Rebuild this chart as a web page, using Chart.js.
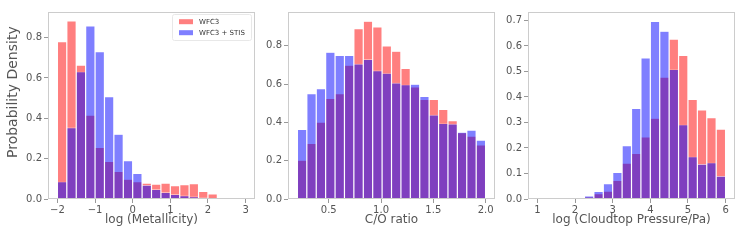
<!DOCTYPE html>
<html>
<head>
<meta charset="utf-8">
<script src="https://cdn.jsdelivr.net/npm/chart.js@4.4.1/dist/chart.umd.min.js"></script>
<style>
  html, body { margin: 0; padding: 0; background: #fff; }
  #wrap { position: relative; width: 747px; height: 240px; overflow: hidden; }
  .panel { position: absolute; top: 0; height: 240px; }
</style>
</head>
<body>
<div id="wrap">
  <div class="panel" style="left:0px;width:262px"><canvas id="metalChart" width="262" height="240"></canvas></div>
  <div class="panel" style="left:258px;width:244px"><canvas id="coChart" width="244" height="240"></canvas></div>
  <div class="panel" style="left:498px;width:244px"><canvas id="cloudChart" width="244" height="240"></canvas></div>
</div>
<script>
// histogram bin edges
const metalEdges = [-2, -1.75, -1.5, -1.25, -1, -0.75, -0.5, -0.25, 0, 0.25, 0.5, 0.75, 1, 1.25, 1.5, 1.75, 2, 2.25, 2.5, 2.75, 3];
const coEdges = [0.2, 0.29, 0.38, 0.47, 0.56, 0.65, 0.74, 0.83, 0.92, 1.01, 1.1, 1.19, 1.28, 1.37, 1.46, 1.55, 1.64, 1.73, 1.82, 1.91, 2.0];
const cloudEdges = [1, 1.25, 1.5, 1.75, 2, 2.25, 2.5, 2.75, 3, 3.25, 3.5, 3.75, 4, 4.25, 4.5, 4.75, 5, 5.25, 5.5, 5.75, 6];

// probability densities per bin
const wfc3Metal = [0.780, 0.883, 0.664, 0.416, 0.256, 0.187, 0.137, 0.098, 0.086, 0.079, 0.074, 0.079, 0.066, 0.071, 0.076, 0.038, 0.025, 0.006, 0.002, 0.001];
const stisMetal = [0.086, 0.354, 0.631, 0.858, 0.731, 0.507, 0.321, 0.190, 0.127, 0.069, 0.048, 0.033, 0.023, 0.017, 0.012, 0.007, 0.003, 0.001, 0, 0];
const wfc3CO = [0.203, 0.290, 0.402, 0.525, 0.551, 0.699, 0.890, 0.929, 0.899, 0.800, 0.772, 0.682, 0.586, 0.520, 0.520, 0.468, 0.409, 0.347, 0.329, 0.283];
const stisCO = [0.363, 0.551, 0.576, 0.767, 0.750, 0.750, 0.706, 0.730, 0.671, 0.657, 0.607, 0.597, 0.600, 0.536, 0.440, 0.395, 0.393, 0.349, 0.360, 0.308];
const wfc3Cloud = [0, 0, 0, 0, 0.002, 0.008, 0.021, 0.031, 0.073, 0.141, 0.179, 0.243, 0.317, 0.478, 0.627, 0.563, 0.390, 0.349, 0.319, 0.274];
const stisCloud = [0, 0, 0, 0, 0.004, 0.012, 0.030, 0.060, 0.104, 0.209, 0.355, 0.553, 0.696, 0.658, 0.508, 0.291, 0.166, 0.137, 0.142, 0.090];

// tick labels
const metalTicks = [-2, -1, 0, 1, 2, 3];
const coTicks = [0.5, 1.0, 1.5, 2.0];
const cloudTicks = [1, 2, 3, 4, 5, 6];
const densTicks = [0, 0.2, 0.4, 0.6, 0.8];
const cloudDensTicks = [0, 0.1, 0.2, 0.3, 0.4, 0.5, 0.6, 0.7];

const seriesLabels = ['WFC3', 'WFC3 + STIS'];

const FONT = "'DejaVu Sans', sans-serif";
const TXT = '#555555';

// draws the light grey box around the axes (matplotlib spines)
const framePlugin = {
    id: 'frame',
    afterDatasetsDraw(chart) {
        const a = chart.chartArea, ctx = chart.ctx;
        ctx.save();
        ctx.strokeStyle = '#cccccc';
        ctx.lineWidth = 1;
        ctx.strokeRect(a.left + 0.5, a.top + 0.5, a.right - a.left - 1, a.bottom - a.top - 1);
        ctx.restore();
    }
};

// small in-axes legend, top right
const insetLegend = {
    id: 'insetLegend',
    afterDraw(chart, args, opts) {
        if (!opts.show) return;
        const ctx = chart.ctx;
        const x0 = 172, y0 = 14;
        ctx.save();
        ctx.fillStyle = 'rgba(255,255,255,0.8)';
        ctx.strokeStyle = '#e8e8e8';
        ctx.lineWidth = 1;
        ctx.beginPath();
        ctx.roundRect(x0 + 0.5, y0 + 0.5, 79, 26, 2);
        ctx.fill();
        ctx.stroke();
        ctx.font = '7px ' + FONT;
        ctx.textBaseline = 'middle';
        chart.data.datasets.forEach(function(ds, i) {
            const y = 21.7 + i * 11;
            ctx.fillStyle = ds.backgroundColor;
            ctx.fillRect(179, y - 2.5, 14, 5);
            ctx.fillStyle = '#333';
            ctx.fillText(ds.label, 199, y + 0.5);
        });
        ctx.restore();
    }
};

function centers(edges) {
    return edges.slice(0, -1).map(function(e, i) { return (e + edges[i + 1]) / 2; });
}

function makeHist(id, edges, red, blue, opt) {
    const mids = centers(edges);
    const pad = (edges[edges.length - 1] - edges[0]) * 0.05;
    const barStyle = {
        borderColor: 'rgba(255,255,255,0.75)',
        borderWidth: 0.6,
        borderSkipped: false,
        inflateAmount: 0,
        barPercentage: 1,
        categoryPercentage: 1,
        grouped: false
    };
    return new Chart(document.getElementById(id), {
        type: 'bar',
        data: {
            datasets: [
                Object.assign({
                    label: seriesLabels[0],
                    data: red.map(function(v, i) { return { x: mids[i], y: v }; }),
                    backgroundColor: 'rgba(255,0,0,0.5)',
                    order: 1
                }, barStyle),
                Object.assign({
                    label: seriesLabels[1],
                    data: blue.map(function(v, i) { return { x: mids[i], y: v }; }),
                    backgroundColor: 'rgba(0,0,255,0.5)',
                    order: 0
                }, barStyle)
            ]
        },
        options: {
            responsive: false,
            animation: false,
            devicePixelRatio: 1,
            layout: { padding: { top: 12, right: 7, left: 0, bottom: 0 } },
            plugins: {
                legend: { display: false },
                tooltip: { enabled: false },
                insetLegend: { show: !!opt.legend }
            },
            scales: {
                x: {
                    type: 'linear',
                    offset: false,
                    min: edges[0] - pad,
                    max: edges[edges.length - 1] + pad,
                    afterBuildTicks: function(axis) { axis.ticks = opt.xTicks.map(function(v) { return { value: v }; }); },
                    afterFit: function(axis) { axis.height = 41; },
                    grid: { display: true, offset: false, drawOnChartArea: false, drawTicks: true, tickLength: 4, color: '#999999' },
                    border: { display: false },
                    ticks: {
                        padding: 1,
                        maxRotation: 0,
                        autoSkip: false,
                        color: TXT,
                        font: { family: FONT, size: 10 },
                        callback: opt.xFmt
                    },
                    title: {
                        display: true,
                        text: opt.xTitle,
                        color: TXT,
                        font: { family: FONT, size: 12 },
                        padding: { top: 0, bottom: 13 }
                    }
                },
                y: {
                    min: 0,
                    max: opt.yMax,
                    afterBuildTicks: function(axis) { axis.ticks = opt.yTicks.map(function(v) { return { value: v }; }); },
                    afterFit: function(axis) { axis.width = opt.yWidth; },
                    grid: { display: true, drawOnChartArea: false, drawTicks: true, tickLength: 4, color: '#999999' },
                    border: { display: false },
                    ticks: {
                        padding: 2,
                        color: TXT,
                        font: { family: FONT, size: 10 },
                        callback: function(v) { return Number(v).toFixed(1); }
                    },
                    title: {
                        display: !!opt.yTitle,
                        text: opt.yTitle || '',
                        color: TXT,
                        font: { family: FONT, size: 14 },
                        padding: { top: 5, bottom: 0 }
                    }
                }
            }
        },
        plugins: [framePlugin, insetLegend]
    });
}

makeHist('metalChart', metalEdges, wfc3Metal, stisMetal, {
    xTicks: metalTicks,
    yTicks: densTicks,
    yMax: 0.927,
    yWidth: 48,
    legend: true,
    xTitle: 'log (Metallicity)',
    yTitle: '      Probability Density',
    xFmt: function(v) { return String(v).replace('-', '\u2212'); }
});

makeHist('coChart', coEdges, wfc3CO, stisCO, {
    xTicks: coTicks,
    yTicks: densTicks,
    yMax: 0.977,
    yWidth: 30,
    xTitle: 'C/O ratio',
    xFmt: function(v) { return Number(v).toFixed(1); }
});

makeHist('cloudChart', cloudEdges, wfc3Cloud, stisCloud, {
    xTicks: cloudTicks,
    yTicks: cloudDensTicks,
    yMax: 0.733,
    yWidth: 30,
    xTitle: 'log (Cloudtop Pressure/Pa)',
    xFmt: function(v) { return String(v); }
});
</script>
</body>
</html>
